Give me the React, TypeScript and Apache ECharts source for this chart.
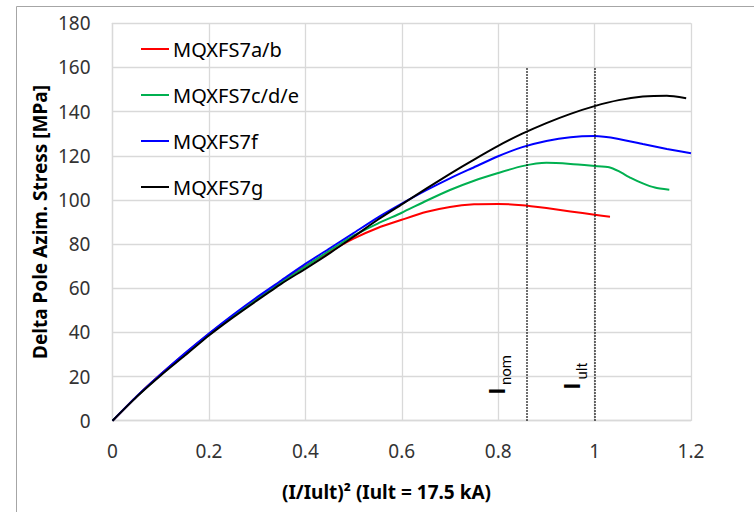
import React, { useEffect, useRef } from "react";
import * as echarts from "echarts";

const seriesNames = ["MQXFS7a/b", "MQXFS7c/d/e", "MQXFS7f", "MQXFS7g"];
const seriesColors = ["#ff0000", "#00b050", "#0000ff", "#000000"];

const xRed = [0, 0.05, 0.1, 0.15, 0.2, 0.25, 0.3, 0.35, 0.4, 0.45, 0.5, 0.55, 0.6, 0.65, 0.7, 0.75, 0.8, 0.85, 0.9, 0.95, 1.0, 1.032];
const yRed = [0, 11, 21, 30.3, 39.2, 47.6, 55.5, 63, 70, 76.5, 82.5, 87.3, 91, 94.5, 96.8, 98, 98.2, 97.6, 96.3, 94.8, 93.3, 92.4];

const xGreen = [0, 0.05, 0.1, 0.15, 0.2, 0.25, 0.3, 0.35, 0.4, 0.45, 0.5, 0.55, 0.6, 0.65, 0.7, 0.75, 0.8, 0.85, 0.9, 0.95, 1.0, 1.03, 1.05, 1.075, 1.1, 1.125, 1.155];
const yGreen = [0, 10.9, 20.8, 30, 39, 47.3, 55, 62.6, 69.8, 77, 83.8, 89.3, 94.2, 99.5, 104.5, 108.7, 112.2, 115.3, 116.8, 116.3, 115.4, 114.8, 113, 110, 107.5, 105.6, 104.6];

const xBlue = [0, 0.05, 0.1, 0.15, 0.2, 0.25, 0.3, 0.35, 0.4, 0.45, 0.5, 0.55, 0.6, 0.65, 0.7, 0.75, 0.8, 0.85, 0.9, 0.95, 1.0, 1.05, 1.1, 1.15, 1.2];
const yBlue = [0, 11, 21, 30.5, 39.5, 48, 56, 63.5, 71, 78, 85, 92, 98.3, 104.3, 109.8, 114.8, 119.8, 123.9, 126.7, 128.4, 128.9, 127.6, 125.3, 123.1, 121.1];

const xBlack = [0, 0.05, 0.1, 0.15, 0.2, 0.25, 0.3, 0.35, 0.4, 0.45, 0.5, 0.55, 0.6, 0.65, 0.7, 0.75, 0.8, 0.85, 0.9, 0.95, 1.0, 1.05, 1.1, 1.15, 1.19];
const yBlack = [0, 10.8, 20.5, 29.5, 38.6, 46.8, 54.5, 62, 68.8, 75.8, 83.3, 91, 98, 105, 111.8, 118.3, 124.5, 130, 134.8, 139, 142.5, 145.2, 146.8, 147.2, 146.1];

const markerX = [0.86, 1.0];
const markerTop = 160;

const FONT = "'Noto Sans', 'Open Sans', sans-serif";
const FONT_I = "Roboto, 'DejaVu Sans', sans-serif";

function pairs(xs: number[], ys: number[]) {
  return xs.map((x, i) => [x, ys[i]]);
}

export default function App() {
  const ref = useRef<HTMLDivElement>(null);
  useEffect(() => {
    if (!ref.current) return;
    const chart = echarts.init(ref.current, undefined, { renderer: "svg" });
    const allX = [xRed, xGreen, xBlue, xBlack];
    const allY = [yRed, yGreen, yBlue, yBlack];
    const series: any[] = seriesNames.map((name, i) => ({
      name,
      type: "line",
      data: pairs(allX[i], allY[i]),
      showSymbol: false,
      symbol: "none",
      smooth: 0.2,
      color: seriesColors[i],
      lineStyle: { color: seriesColors[i], width: 2 },
    }));
    series[3].markLine = {
      silent: true,
      symbol: ["none", "none"],
      label: { show: false },
      lineStyle: { type: "dotted", color: "#000", width: 1.5 },
      data: markerX.map((x) => [{ coord: [x, 0] }, { coord: [x, markerTop] }]),
    };
    chart.setOption({
      animation: false,
      backgroundColor: "#ffffff",
      grid: { left: 112.5, right: 63, top: 23.3, bottom: 91.3, containLabel: false },
      legend: {
        orient: "vertical",
        left: 141,
        top: 39,
        padding: 0,
        icon: "rect",
        itemWidth: 28,
        itemHeight: 2,
        itemGap: 26,
        data: seriesNames,
        textStyle: { fontFamily: FONT, fontSize: 20, color: "#000", lineHeight: 20, padding: [0, 0, 0, -1] },
      },
      xAxis: {
        type: "value",
        min: 0,
        max: 1.2,
        interval: 0.2,
        axisLine: { show: true, lineStyle: { color: "#d9d9d9", width: 1.3 } },
        axisTick: { show: false },
        splitLine: { show: true, lineStyle: { color: "#d9d9d9", width: 1.3 } },
        axisLabel: {
          margin: 21,
          fontFamily: FONT,
          fontSize: 19,
          color: "#333",
          formatter: (v: number) => String(+v.toFixed(1)),
        },
      },
      yAxis: {
        type: "value",
        min: 0,
        max: 180,
        interval: 20,
        axisLine: { show: true, lineStyle: { color: "#d9d9d9", width: 1.3 } },
        axisTick: { show: false },
        splitLine: { show: true, lineStyle: { color: "#d9d9d9", width: 1.3 } },
        axisLabel: { margin: 22, fontFamily: FONT, fontSize: 19, color: "#333" },
      },
      graphic: [
        {
          type: "rect",
          shape: { x: 16.5, y: 6.5, width: 900, height: 700 },
          style: { fill: "none", stroke: "#a6a6a6", lineWidth: 1 },
          silent: true,
          z: -1,
        },
        {
          type: "text",
          x: 39.5,
          y: 222,
          rotation: Math.PI / 2,
          z: 100,
          style: {
            text: "Delta Pole Azim. Stress [MPa]",
            fontFamily: FONT,
            fontWeight: "bold",
            fontSize: 19,
            fill: "#000",
            align: "center",
            verticalAlign: "middle",
          },
        },
        {
          type: "text",
          x: 386.5,
          y: 492,
          z: 100,
          style: {
            text: "(I/Iult)² (Iult = 17.5 kA)",
            fontFamily: FONT,
            fontWeight: "bold",
            fontSize: 19,
            fill: "#000",
            align: "center",
            verticalAlign: "middle",
          },
        },
        {
          type: "text",
          x: 497,
          y: 391,
          rotation: Math.PI / 2,
          z: 100,
          style: { text: "I", fontFamily: FONT_I, fontWeight: "bold", fontSize: 22, fill: "#000", align: "center", verticalAlign: "middle" },
        },
        {
          type: "text",
          x: 506,
          y: 370,
          rotation: Math.PI / 2,
          z: 100,
          style: { text: "nom", fontFamily: FONT_I, fontSize: 15, fill: "#000", align: "center", verticalAlign: "middle" },
        },
        {
          type: "text",
          x: 572,
          y: 386,
          rotation: Math.PI / 2,
          z: 100,
          style: { text: "I", fontFamily: FONT_I, fontWeight: "bold", fontSize: 22, fill: "#000", align: "center", verticalAlign: "middle" },
        },
        {
          type: "text",
          x: 582,
          y: 371,
          rotation: Math.PI / 2,
          z: 100,
          style: { text: "ult", fontFamily: FONT_I, fontSize: 15, fill: "#000", align: "center", verticalAlign: "middle" },
        },
      ],
      series,
    });
    return () => chart.dispose();
  }, []);
  return <div ref={ref} style={{ position: "absolute", left: 0, top: 0, width: 754, height: 512 }} />;
}
